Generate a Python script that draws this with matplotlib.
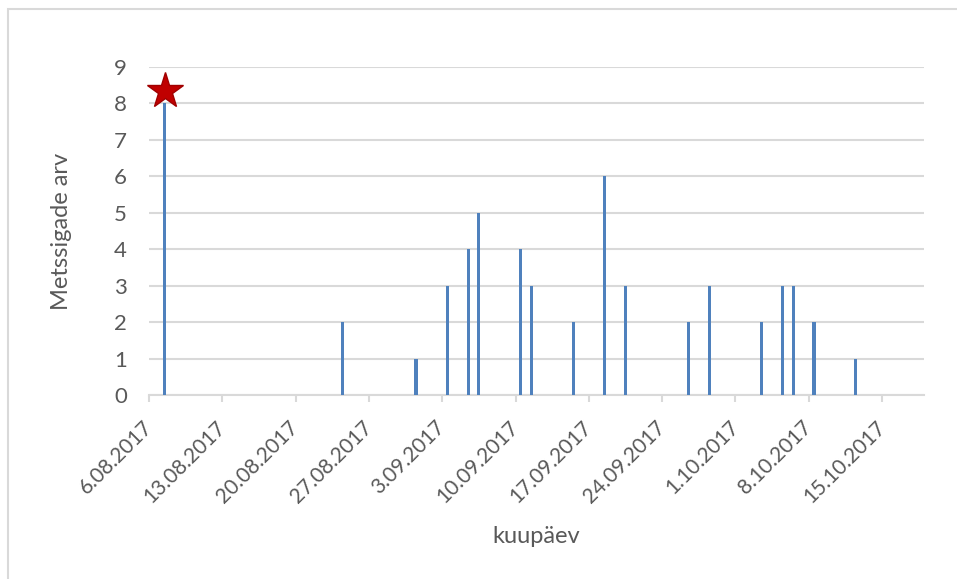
"""
Metssigade arv kuupäeviti (tulpdiagramm)
"""
import matplotlib
matplotlib.use('Agg')
import matplotlib.pyplot as plt
import matplotlib.dates as mdates
import matplotlib.transforms as mtransforms
from matplotlib.patches import Rectangle
import datetime as dt

plt.rcParams['font.family'] = ['Lato', 'DejaVu Sans']

# andmed
dates = ['7.08.2017', '24.08.2017', '31.08.2017', '3.09.2017', '5.09.2017',
         '6.09.2017', '10.09.2017', '11.09.2017', '15.09.2017', '18.09.2017',
         '20.09.2017', '26.09.2017', '28.09.2017', '3.10.2017', '5.10.2017',
         '6.10.2017', '8.10.2017', '12.10.2017']
counts = [8, 2, 1, 3, 4, 5, 4, 3, 2, 6, 3, 2, 3, 2, 3, 3, 2, 1]
star_date = '7.08.2017'
star_value = 8.35
tick_dates = ['6.08.2017', '13.08.2017', '20.08.2017', '27.08.2017', '3.09.2017',
              '10.09.2017', '17.09.2017', '24.09.2017', '1.10.2017', '8.10.2017',
              '15.10.2017']
x_start, x_end = '6.08.2017', '19.10.2017'

TEXT = '#595959'
GRID = '#D9D9D9'
BAR = '#4F81BD'


def to_num(s):
    return mdates.date2num(dt.datetime.strptime(s, '%d.%m.%Y'))


fig = plt.figure(figsize=(9.57, 5.79), dpi=100)
ax = fig.add_axes([149 / 957, 1 - 395 / 579, (924 - 149) / 957, (395 - 67) / 579])

# diagrammi ala raam (näha ainult üla- ja vasak serv)
fig.patches.append(Rectangle((8 / 957, -0.1), 1.2, 0.1 + (579 - 9) / 579,
                             transform=fig.transFigure, fill=False,
                             edgecolor=GRID, linewidth=1.5))

x = [to_num(d) + 0.5 for d in dates]
ax.bar(x, counts, width=0.3, color=BAR, zorder=3)
ax.plot([to_num(star_date) + 0.5], [star_value], marker='*', markersize=27,
        color='#C00000', markeredgecolor='#A00000', linestyle='none',
        zorder=4, clip_on=False)

ax.set_xlim(to_num(x_start), to_num(x_end))
ax.set_ylim(0, 9)
ax.set_yticks(range(10))
ax.set_xticks([to_num(d) for d in tick_dates])
ax.set_xticklabels(tick_dates, rotation=45, ha='right', va='center',
                   rotation_mode='anchor')

# nihutame kuupäevi veidi vasakule
shift = mtransforms.ScaledTranslation(-4 / 100, 0, fig.dpi_scale_trans)
for lbl in ax.get_xticklabels():
    lbl.set_transform(lbl.get_transform() + shift)

ax.grid(True, axis='y', color=GRID, linewidth=1.5, zorder=0)
ax.set_axisbelow(True)
for side in ['top', 'right', 'left']:
    ax.spines[side].set_visible(False)
ax.spines['bottom'].set_color(GRID)
ax.spines['bottom'].set_linewidth(1.5)

ax.tick_params(axis='y', length=0, pad=16, labelsize=16, labelcolor=TEXT)
ax.tick_params(axis='x', length=5, width=1.5, color=GRID, pad=16,
               labelsize=15, labelcolor=TEXT)

ax.set_ylabel('Metssigade arv', fontsize=17, color=TEXT, labelpad=30)
ax.set_xlabel('kuupäev', fontsize=17, color=TEXT, labelpad=14)

plt.savefig('out.png', dpi=100)
plt.close()
